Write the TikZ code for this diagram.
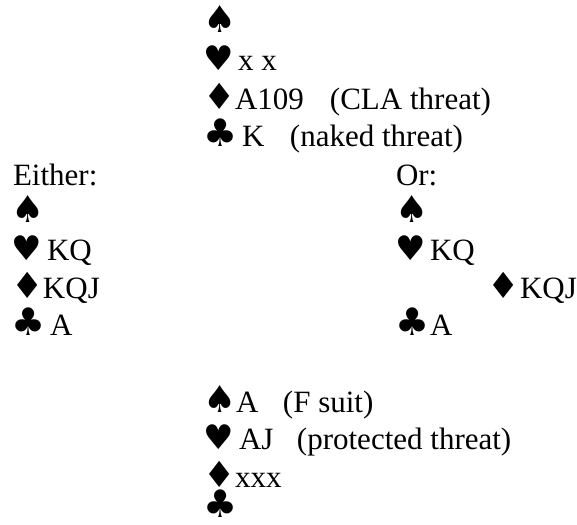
\documentclass[tikz,border=0pt]{standalone}
\usepackage{fontspec}
\setmainfont{Liberation Serif}
\newfontfamily\suitfont{DejaVu Sans}
\newcommand\SuitGlyph[3]{\makebox[#1][l]{\suitfont\fontsize{#3}{#3}\selectfont #2}}
\newcommand\SpS[1][31pt]{\SuitGlyph{#1}{♠}{37}}
\newcommand\SpH[1][34pt]{\SuitGlyph{#1}{♥}{34}}
\newcommand\SpD[1][30pt]{\SuitGlyph{#1}{♦}{36}}
\newcommand\SpC[1][37pt]{\SuitGlyph{#1}{♣}{38}}
\tikzset{
  handline/.style={anchor=base west, inner sep=0pt, outer sep=0pt,
    font=\fontsize{31}{37}\selectfont, text=black}
}
\begin{document}
\begin{tikzpicture}[x=1pt,y=-1pt]
\useasboundingbox[fill=white] (0,0) rectangle (577,524);
% North
\node[handline] (ns) at (203,33) {\SpS};
\node[handline] (nh) at (203,71) {\SpH[35pt]x x};
\node[handline] (nd) at (203,109) {\SpD[32pt]\makebox[95pt][l]{A109}(CLA threat)};
\node[handline] (nc) at (203,146) {\SpC[39pt]\makebox[48pt][l]{K}(naked threat)};
% West
\node[handline] (wl) at (13,185) {Either:};
\node[handline] (ws) at (11,222) {\SpS};
\node[handline] (wh) at (11,260) {\SpH[36pt]KQ};
\node[handline] (wd) at (11,298) {\SpD[32pt]KQJ};
\node[handline] (wc) at (11,335) {\SpC[39pt]A};
% East
\node[handline] (el) at (396,185) {Or:};
\node[handline] (es) at (395,222) {\SpS};
\node[handline] (eh) at (395,260) {\SpH[35pt]KQ};
\node[handline] (ed) at (487,298) {\SpD[33pt]KQJ};
\node[handline] (ec) at (395,335) {\SpC[35pt]A};
% South
\node[handline] (ss) at (203,412) {\SpS[33pt]\makebox[47pt][l]{A}(F suit)};
\node[handline] (sh) at (203,449.5) {\SpH[36pt]\makebox[58pt][l]{AJ}(protected threat)};
\node[handline] (sd) at (203,487) {\SpD[32pt]xxx};
\node[handline] (sc) at (203,517) {\SpC};
\end{tikzpicture}
\end{document}
